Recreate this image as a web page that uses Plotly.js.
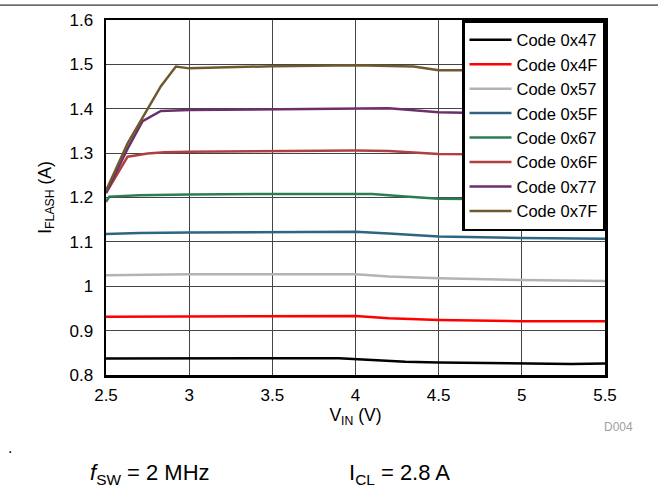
<!DOCTYPE html>
<html><head><meta charset="utf-8">
<script src="https://cdn.plot.ly/plotly-3.0.1.min.js"></script>
<style>html,body{margin:0;padding:0;background:#fff}#c{width:658px;height:491px}</style>
</head><body><div id="c"></div>
<script>
const seriesNames = ["Code 0x47","Code 0x4F","Code 0x57","Code 0x5F","Code 0x67","Code 0x6F","Code 0x77","Code 0x7F"];
const colors = ["#000000","#ff0000","#b3b3b3","#2f6482","#2e7d52","#b04040","#6e2e6c","#6f5a2e"];

const x47 = [2.5, 3.0, 3.5, 3.9, 4.0, 4.3, 4.5, 5.0, 5.3, 5.5];
const y47 = [0.837, 0.838, 0.838, 0.838, 0.836, 0.830, 0.828, 0.826, 0.825, 0.826];
const x4F = [2.5, 3.0, 3.5, 4.0, 4.2, 4.5, 5.0, 5.3, 5.5];
const y4F = [0.931, 0.932, 0.933, 0.933, 0.928, 0.924, 0.921, 0.920, 0.921];
const x57 = [2.5, 3.0, 3.5, 4.0, 4.2, 4.5, 5.0, 5.3, 5.5];
const y57 = [1.025, 1.027, 1.027, 1.027, 1.022, 1.018, 1.014, 1.012, 1.012];
const x5F = [2.5, 2.7, 3.0, 3.5, 4.0, 4.2, 4.5, 5.0, 5.3, 5.5];
const y5F = [1.118, 1.120, 1.121, 1.122, 1.123, 1.119, 1.112, 1.109, 1.107, 1.107];
const x67 = [2.5, 2.52, 2.7, 3.0, 3.5, 4.0, 4.1, 4.3, 4.5, 5.0, 5.5];
const y67 = [1.190, 1.202, 1.205, 1.207, 1.208, 1.208, 1.208, 1.202, 1.197, 1.196, 1.195];
const x6F = [2.5, 2.63, 2.75, 2.85, 3.0, 3.5, 4.0, 4.2, 4.5, 5.0, 5.5];
const y6F = [1.210, 1.292, 1.299, 1.302, 1.303, 1.305, 1.306, 1.305, 1.298, 1.297, 1.297];
const x77 = [2.5, 2.63, 2.72, 2.83, 3.0, 3.5, 4.0, 4.2, 4.5, 5.0, 5.5];
const y77 = [1.210, 1.310, 1.372, 1.395, 1.397, 1.399, 1.400, 1.401, 1.392, 1.388, 1.388];
const x7F = [2.5, 2.63, 2.83, 2.92, 3.0, 3.5, 4.0, 4.2, 4.35, 4.5, 5.0, 5.5];
const y7F = [1.215, 1.322, 1.451, 1.495, 1.491, 1.496, 1.498, 1.497, 1.495, 1.487, 1.486, 1.486];

const xs = [x47, x4F, x57, x5F, x67, x6F, x77, x7F];
const ys = [y47, y4F, y57, y5F, y67, y6F, y77, y7F];

const xTicks = [2.5, 3, 3.5, 4, 4.5, 5, 5.5];
const xTickText = ["2.5","3","3.5","4","4.5","5","5.5"];
const yTicks = [0.8, 0.9, 1, 1.1, 1.2, 1.3, 1.4, 1.5, 1.6];
const yTickText = ["0.8","0.9","1","1.1","1.2","1.3","1.4","1.5","1.6"];

const font = "Liberation Sans, Arial, sans-serif";
const traces = seriesNames.map((n, i) => ({
  x: xs[i], y: ys[i], name: n, type: "scatter", mode: "lines",
  line: {color: colors[i], width: 2.5}
}));

const layout = {
  width: 658, height: 491,
  margin: {l: 106, r: 53, t: 20, b: 116},
  paper_bgcolor: "#fff", plot_bgcolor: "#fff",
  font: {family: font, size: 17, color: "#000"},
  showlegend: true,
  legend: {x: 1, xanchor: "right", y: 1, yanchor: "top", bgcolor: "#fff",
    bordercolor: "#000", borderwidth: 2.5, font: {family: font, size: 16.5, color: "#000"},
    tracegroupgap: 0, itemwidth: 42},
  xaxis: {range: [2.5, 5.5], tickvals: xTicks, ticktext: xTickText, showgrid: true,
    gridcolor: "#444", gridwidth: 1, showline: true, linecolor: "#000", linewidth: 2.5,
    mirror: true, ticks: "", zeroline: false, ticklabelstandoff: 3,
    tickfont: {family: font, size: 17},
    title: {text: "V<sub>IN</sub> (V)", font: {family: font, size: 17.5}, standoff: 4}},
  yaxis: {range: [0.8, 1.6], tickvals: yTicks, ticktext: yTickText, showgrid: true,
    gridcolor: "#444", gridwidth: 1, showline: true, linecolor: "#000", linewidth: 2.5,
    mirror: true, ticks: "", zeroline: false, ticklabelstandoff: 7,
    tickfont: {family: font, size: 17},
    title: {text: "I<sub>FLASH</sub> (A)", font: {family: font, size: 17.5}, standoff: 14}},
  shapes: [
    {type: "line", xref: "paper", yref: "paper", x0: -0.22, x1: 1.11, y0: 1.042, y1: 1.042,
      line: {color: "#000", width: 1}}
  ],
  annotations: [
    {text: "D004", xref: "paper", yref: "paper", x: 1.028, y: -0.147, showarrow: false,
      xanchor: "center", yanchor: "middle", font: {family: font, size: 12, color: "#a0a0a0"}},
    {text: ".", xref: "paper", yref: "paper", x: -0.193, y: -0.205, showarrow: false,
      xanchor: "center", yanchor: "middle", font: {family: font, size: 16, color: "#000"}},
    {text: "<i>f</i><sub>SW</sub> = 2 MHz", xref: "paper", yref: "paper", x: -0.036, y: -0.28,
      showarrow: false, xanchor: "left", yanchor: "middle", font: {family: font, size: 22, color: "#000"}},
    {text: "I<sub>CL</sub> = 2.8 A", xref: "paper", yref: "paper", x: 0.482, y: -0.28,
      showarrow: false, xanchor: "left", yanchor: "middle", font: {family: font, size: 22, color: "#000"}}
  ]
};
Plotly.newPlot("c", traces, layout, {staticPlot: true, displayModeBar: false});
</script></body></html>
